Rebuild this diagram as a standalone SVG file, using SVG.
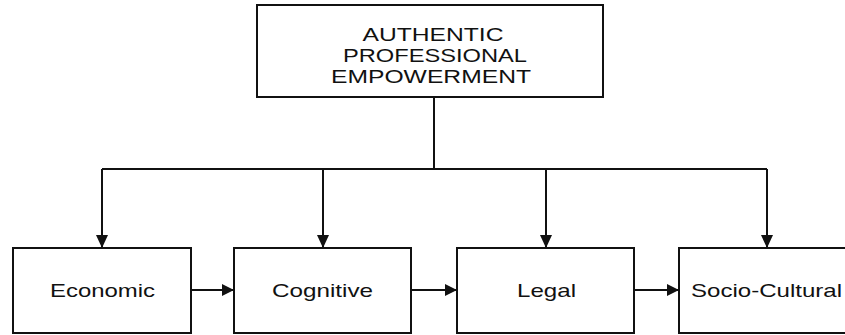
<svg xmlns="http://www.w3.org/2000/svg" width="845" height="335" viewBox="0 0 845 335">
<style>
.box{fill:#fff;stroke:#111;stroke-width:2}
.t{font-family:"Liberation Sans",Arial,sans-serif;font-size:19px;fill:#111;text-anchor:middle}
.c{fill:none;stroke:#111;stroke-width:2}
</style>
<defs>
<marker id="ah" viewBox="0 0 12 12" refX="12" refY="6" markerWidth="12" markerHeight="12" markerUnits="userSpaceOnUse" orient="auto">
<path d="M0,0 L12,6 L0,12 Z" fill="#111"/>
</marker>
<marker id="ahv" viewBox="0 0 13 12" refX="13" refY="6" markerWidth="13" markerHeight="12" markerUnits="userSpaceOnUse" orient="auto">
<path d="M0,0 L13,6 L0,12 Z" fill="#111"/>
</marker>
</defs>
<rect width="845" height="335" fill="#fff"/>
<g id="connectors">
<path class="c" d="M434,97 V169"/>
<path class="c" d="M102,169 H767"/>
<path class="c" d="M102,169 V248" marker-end="url(#ahv)"/>
<path class="c" d="M323,169 V248" marker-end="url(#ahv)"/>
<path class="c" d="M546,169 V248" marker-end="url(#ahv)"/>
<path class="c" d="M767,169 V248" marker-end="url(#ahv)"/>
<path class="c" d="M191,290 H234" marker-end="url(#ah)"/>
<path class="c" d="M411,290 H457" marker-end="url(#ah)"/>
<path class="c" d="M634,290 H679" marker-end="url(#ah)"/>
</g>
<g id="top">
<rect class="box" x="257" y="5" width="346" height="92"/>
<text class="t" x="433" y="41" textLength="141" lengthAdjust="spacingAndGlyphs">AUTHENTIC</text>
<text class="t" x="435" y="62" textLength="184" lengthAdjust="spacingAndGlyphs">PROFESSIONAL</text>
<text class="t" x="431" y="83" textLength="200" lengthAdjust="spacingAndGlyphs">EMPOWERMENT</text>
</g>
<g id="economic">
<rect class="box" x="13" y="248" width="178" height="85"/>
<text class="t" x="102.5" y="297" textLength="105" lengthAdjust="spacingAndGlyphs">Economic</text>
</g>
<g id="cognitive">
<rect class="box" x="234" y="248" width="177" height="85"/>
<text class="t" x="322.5" y="297" textLength="101" lengthAdjust="spacingAndGlyphs">Cognitive</text>
</g>
<g id="legal">
<rect class="box" x="457" y="248" width="177" height="85"/>
<text class="t" x="546.5" y="297" textLength="59" lengthAdjust="spacingAndGlyphs">Legal</text>
</g>
<g id="socio">
<rect class="box" x="679" y="248" width="178" height="85"/>
<text class="t" x="766.5" y="297" textLength="151" lengthAdjust="spacingAndGlyphs">Socio-Cultural</text>
</g>
</svg>
